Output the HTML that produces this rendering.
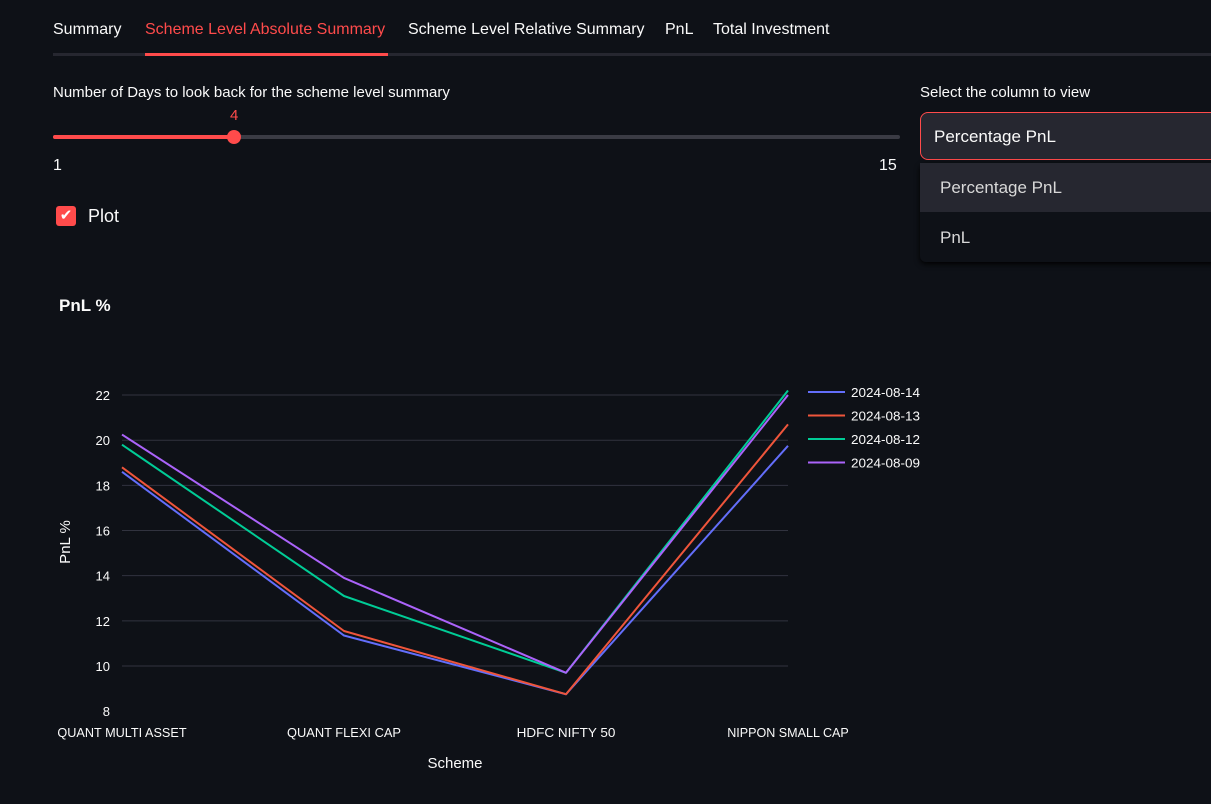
<!DOCTYPE html>
<html><head><meta charset="utf-8"><style>
body{margin:0;width:1211px;height:804px;background:#0e1117;color:#fafafa;font-family:"Liberation Sans",sans-serif;overflow:hidden;position:relative}
.abs{position:absolute;white-space:nowrap}
.tab{position:absolute;top:21px;font-size:16px}
</style></head><body>
<div class="abs" style="left:53px;top:53px;width:1158px;height:3px;background:#262730"></div>
<div class="abs" style="left:145px;top:53px;width:243px;height:3px;background:#ff4b4b"></div>
<div class="tab" style="left:53px">Summary</div>
<div class="tab" style="left:145px;color:#ff4b4b">Scheme Level Absolute Summary</div>
<div class="tab" style="left:408px">Scheme Level Relative Summary</div>
<div class="tab" style="left:665px">PnL</div>
<div class="tab" style="left:713px">Total Investment</div>

<div class="abs" style="left:53px;top:84px;font-size:15px">Number of Days to look back for the scheme level summary</div>
<div class="abs" style="left:230px;top:107px;font-size:15px;color:#ff4b4b">4</div>
<div class="abs" style="left:53px;top:135px;width:847px;height:4px;border-radius:2px;background:#3a3b44"></div>
<div class="abs" style="left:53px;top:135px;width:181px;height:4px;border-radius:2px;background:#ff4b4b"></div>
<div class="abs" style="left:227px;top:130px;width:14px;height:14px;border-radius:50%;background:#ff4b4b"></div>
<div class="abs" style="left:53px;top:157px;font-size:16px">1</div>
<div class="abs" style="left:879px;top:157px;font-size:16px">15</div>

<div class="abs" style="left:56px;top:206px;width:20px;height:20px;border-radius:3px;background:#ff4b4b;color:#fff;font-size:15px;text-align:center;line-height:20px">✔</div>
<div class="abs" style="left:88px;top:206px;font-size:18px">Plot</div>

<div class="abs" style="left:920px;top:84px;font-size:15px">Select the column to view</div>
<div class="abs" style="left:920px;top:112px;width:300px;height:48px;border:1px solid #ff4b4b;border-radius:8px;background:#262730;box-sizing:border-box;font-size:17px;padding:14px 0 0 13px">Percentage PnL</div>
<div class="abs" style="left:920px;top:163px;width:300px;height:99px;background:#0e1117;box-shadow:0 2px 6px #000;border-radius:6px"></div>
<div class="abs" style="left:920px;top:163px;width:300px;height:49px;background:#262730;color:#d8d8d8;font-size:17px;box-sizing:border-box;padding:15px 0 0 20px">Percentage PnL</div>
<div class="abs" style="left:920px;top:212px;width:300px;height:50px;color:#d8d8d8;font-size:17px;box-sizing:border-box;padding:16px 0 0 20px">PnL</div>

<div class="abs" style="left:59px;top:296px;font-size:17px;font-weight:bold">PnL %</div>

<svg id="chart" class="abs" style="left:0;top:0" width="1211" height="804"></svg>
<script>
const categories=["QUANT MULTI ASSET","QUANT FLEXI CAP","HDFC NIFTY 50","NIPPON SMALL CAP"];
const seriesNames=["2024-08-14","2024-08-13","2024-08-12","2024-08-09"];
const s0814=[18.6,11.35,8.75,19.75];
const s0813=[18.8,11.55,8.75,20.7];
const s0812=[19.8,13.1,9.7,22.2];
const s0809=[20.25,13.9,9.7,22.0];
const yTicks=[8,10,12,14,16,18,20,22];
const colors=["#636efa","#ef553b","#00cc96","#ab63fa"];
const allSeries=[s0814,s0813,s0812,s0809];
const svg=document.getElementById('chart');
const NS="http://www.w3.org/2000/svg";
const X0=122,X1=788,Y10=666,PPU=22.58;
const xs=i=>X0+i*(X1-X0)/(categories.length-1);
const ys=v=>Y10-(v-10)*PPU;
function mk(t,a,txt){const e=document.createElementNS(NS,t);for(const k in a)e.setAttribute(k,a[k]);if(txt!==undefined)e.textContent=txt;svg.appendChild(e);return e;}
yTicks.forEach(v=>{
 if(v>8){const g=mk('line',{x1:X0,x2:X1,y1:ys(v),y2:ys(v),stroke:'#31333f','stroke-width':1});
 
 }
 const t=mk('text',{x:110,y:ys(v)+5,fill:'#fafafa','font-size':13,'text-anchor':'end','font-family':'Liberation Sans, sans-serif'},v);
 
 
});
categories.forEach((c,i)=>{
 const t=mk('text',{x:xs(i),y:737,fill:'#fafafa','font-size':12.5,'text-anchor':'middle','font-family':'Liberation Sans, sans-serif',textLength:c.length*7.6,lengthAdjust:'spacingAndGlyphs'},c);
 
 
});
allSeries.forEach((s,k)=>{
 const p=mk('polyline',{points:s.map((v,i)=>xs(i)+','+ys(v)).join(' '),fill:'none',stroke:colors[k],'stroke-width':2,'stroke-linejoin':'round'});
 
 
 const ly=392+k*23.5;
 const l=mk('line',{x1:808,x2:845,y1:ly,y2:ly,stroke:colors[k],'stroke-width':2});
 
 
 const t=mk('text',{x:851,y:ly+5,fill:'#fafafa','font-size':13,'font-family':'Liberation Sans, sans-serif',textLength:69,lengthAdjust:'spacingAndGlyphs'},seriesNames[k]);
 
 
});
const xt=mk('text',{x:455,y:768,fill:'#fafafa','font-size':15,'text-anchor':'middle','font-family':'Liberation Sans, sans-serif'},'Scheme');


const yt=mk('text',{x:0,y:0,fill:'#fafafa','font-size':15,'text-anchor':'middle','font-family':'Liberation Sans, sans-serif',transform:'translate(70,542) rotate(-90)'},'PnL %');


</script>
</body></html>
